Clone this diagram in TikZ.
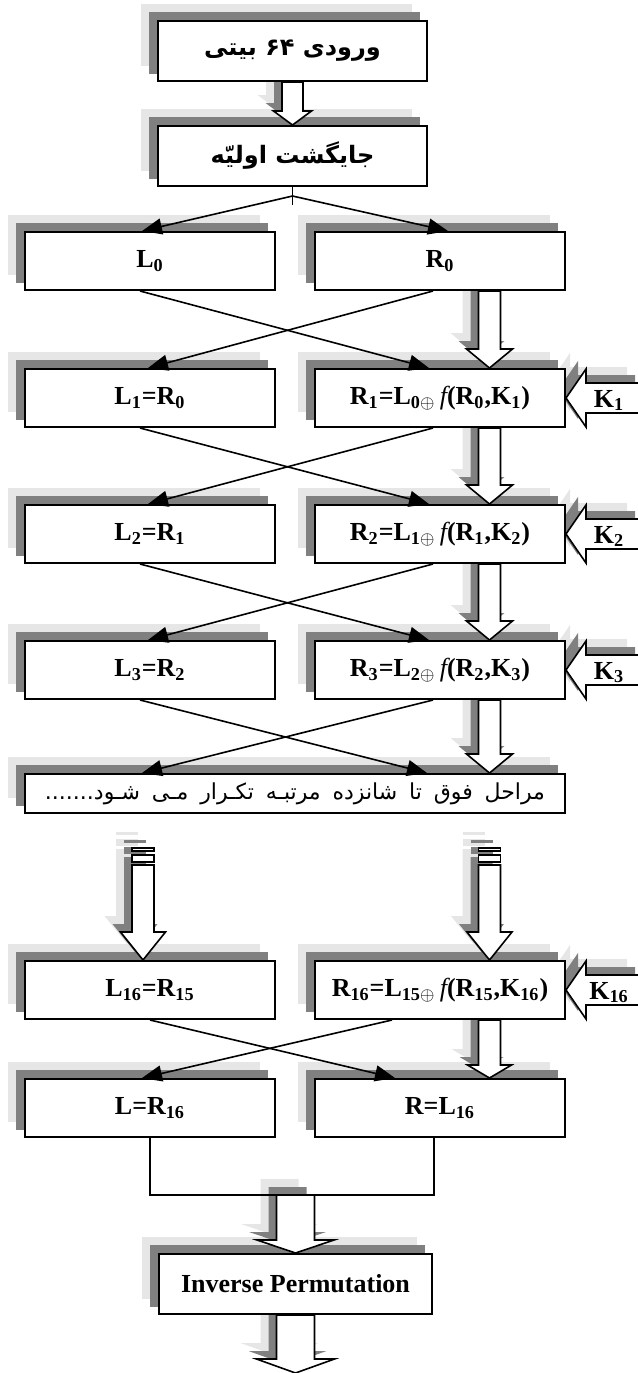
\documentclass[tikz,border=0pt]{standalone}
\usepackage{fontspec}
\setmainfont{Liberation Serif}
\newfontfamily\farsi[Script=Arabic]{DejaVu Sans}
\TeXXeTstate=1
\usepackage{tikz}
\usetikzlibrary{positioning, arrows.meta, calc}
\definecolor{paleshade}{HTML}{E6E6E6}
\definecolor{deepshade}{HTML}{808080}
\pgfdeclarelayer{pale}
\pgfdeclarelayer{deep}
\pgfsetlayers{pale,deep,main}
% two copies of a path behind it, up and left
\newcommand\shades[1]{%
  \begin{pgfonlayer}{pale}\fill[paleshade, transform canvas={shift={(-16,-16)}}] #1;\end{pgfonlayer}%
  \begin{pgfonlayer}{deep}\fill[deepshade, transform canvas={shift={(-8,-8)}}] #1;\end{pgfonlayer}}
\newcommand\bigarrow[1]{\shades{#1}\filldraw[fill=white, draw=black, line width=0.8pt] #1;}
% hollow arrow down: from, to, half shaft, half head, head length
\newcommand\blkdown[5]{($(#1)+(-#3,0)$) -- ($(#2)+(-#3,-#5)$) -- ($(#2)+(-#4,-#5)$) -- (#2)
  -- ($(#2)+(#4,-#5)$) -- ($(#2)+(#3,-#5)$) -- ($(#1)+(#3,0)$) -- cycle}
% hollow key arrow into the east side of a box
\newcommand\keyin[1]{(#1.east) -- ++(20,-29) -- ++(0,14) -- ++(57,0) -- ++(0,30) -- ++(-57,0) -- ++(0,14) -- cycle}

\begin{document}
\begin{tikzpicture}[
  x=0.5pt, y=-0.5pt,
  font=\fontsize{13}{15}\selectfont\bfseries,
  half/.style={rectangle, draw=black, line width=1pt, fill=white,
               inner sep=0pt, minimum width=125pt, minimum height=29pt},
  wide/.style={half, minimum width=134.5pt, minimum height=30pt},
  cross/.style={-{Triangle[length=10pt, width=8pt]}, line width=0.8pt},
  klabel/.style={anchor=base, inner sep=0pt}
]
\useasboundingbox (0,0) rectangle (638,1373);
\clip (0,0) rectangle (638,1373);

\node[wide, font=\farsi\bfseries\fontsize{12}{14}\selectfont] (top) at (292.5,51)
  {\beginR ورودی ۶۴ بیتی\endR};
\node[wide, below=21.5pt of top, font=\farsi\bfseries\fontsize{12}{14}\selectfont] (init)
  {\beginR جایگشت اولیّه\endR};

\node[half] (L0) at (150,261) {L\textsubscript{0}};
\node[half, right=19pt of L0] (R0) {R\textsubscript{0}};
\node[half, below=38.5pt of L0] (L1) {L\textsubscript{1}=R\textsubscript{0}};
\node[half, right=19pt of L1] (R1)
  {R\textsubscript{1}=L\textsubscript{0$\oplus$}\,{\mdseries\itshape f}(R\textsubscript{0},K\textsubscript{1})};
\node[half, below=38pt of L1] (L2) {L\textsubscript{2}=R\textsubscript{1}};
\node[half, right=19pt of L2] (R2)
  {R\textsubscript{2}=L\textsubscript{1$\oplus$}\,{\mdseries\itshape f}(R\textsubscript{1},K\textsubscript{2})};
\node[half, below=38pt of L2] (L3) {L\textsubscript{3}=R\textsubscript{2}};
\node[half, right=19pt of L3] (R3)
  {R\textsubscript{3}=L\textsubscript{2$\oplus$}\,{\mdseries\itshape f}(R\textsubscript{2},K\textsubscript{3})};

\node[half, minimum width=270pt, minimum height=19.5pt,
      font=\farsi\fontsize{11}{13}\selectfont] (rep) at (295,793.5)
  {\makebox[250pt][s]{\beginR مراحل فوق تا شانزده مرتبـه تکـرار مـی شـود.......\endR}};

\node[half] (L16) at (150,990) {L\textsubscript{16}=R\textsubscript{15}};
\node[half, right=19pt of L16] (R16)
  {R\textsubscript{16}=L\textsubscript{15$\oplus$}\,{\mdseries\itshape f}(R\textsubscript{15},K\textsubscript{16})};
\node[half, below=29pt of L16] (Lf) {L=R\textsubscript{16}};
\node[half, right=19pt of Lf] (Rf) {R=L\textsubscript{16}};
\node[wide, minimum width=136.5pt] (inv) at (295.5,1284) {Inverse Permutation};

% shadows of the boxes
\foreach \b in {top,init,L0,R0,L1,R1,L2,R2,L3,R3,rep,L16,R16,Lf,Rf,inv}
  \shades{(\b.south west) rectangle (\b.north east)};

% fork after the initial permutation
\coordinate (fork) at ([yshift=-4.5pt]init.south);
\draw[line width=0.8pt] (init.south) -- ([yshift=-9pt]init.south);
\draw[cross] (fork) -- ([xshift=-4pt]L0.north);
\draw[cross] (fork) -- ([xshift=4pt]R0.north);

% crossings between the rounds
\foreach \a/\b in {0/1,1/2,2/3} {
  \draw[cross] ([xshift=-5pt]L\a.south) -- ([xshift=-5.5pt]R\b.north);
  \draw[cross] ([xshift=-3.5pt]R\a.south) -- ([xshift=-1pt]L\b.north);
}
\draw[cross] ([xshift=-5pt]L3.south) -- ([xshift=66pt]rep.north);
\draw[cross] ([xshift=-3.5pt]R3.south) -- ([xshift=-76.5pt]rep.north);
\draw[cross] (L16.south) -- ([xshift=-22.5pt]Rf.north);
\draw[cross] ([xshift=-24pt]R16.south) -- ([xshift=-4pt]Lf.north);

% hollow arrows
\coordinate (rcol) at (489.5,0);
\coordinate (lcol) at (143,0);
\bigarrow{\blkdown{top.south}{init.north}{10.5}{19}{14}}
\foreach \a/\b in {R0/R1,R1/R2,R2/R3,R3/rep}
  \bigarrow{\blkdown{\a.south -| rcol}{\b.north -| rcol}{11}{23}{19}};
\bigarrow{\blkdown{R16.south -| rcol}{Rf.north -| rcol}{11}{22}{13}}

% broken arrows: the rounds in between
\foreach \c/\t in {lcol/L16,rcol/R16} {
  \coordinate (brk) at (rep.south -| \c);
  \bigarrow{($(brk)+(-11,34)$) rectangle ($(brk)+(11,37)$)}
  \bigarrow{($(brk)+(-11,41)$) rectangle ($(brk)+(11,48)$)}
  \coordinate (brkend) at ($(brk)+(0,51)$);
  \bigarrow{\blkdown{brkend}{\t.north -| \c}{11}{22.5}{28}}
}

% subkeys
\foreach \r/\k in {R1/1,R2/2,R3/3,R16/16} {
  \bigarrow{\keyin{\r}}
  \node[klabel] (k\k) at ([xshift=21.5pt, yshift=-4.5pt]\r.east) {K\textsubscript{\k}};
}

% merge and inverse permutation
\draw[line width=0.8pt] (Lf.south) -- ++(0,57) coordinate (merge) -| ([xshift=-3pt]Rf.south);
\bigarrow{\blkdown{merge -| inv.north}{inv.north}{19}{38.5}{13}}
\coordinate (out) at ([yshift=-29pt]inv.south);
\bigarrow{\blkdown{inv.south}{out}{19}{39}{14}}
\end{tikzpicture}
\end{document}
